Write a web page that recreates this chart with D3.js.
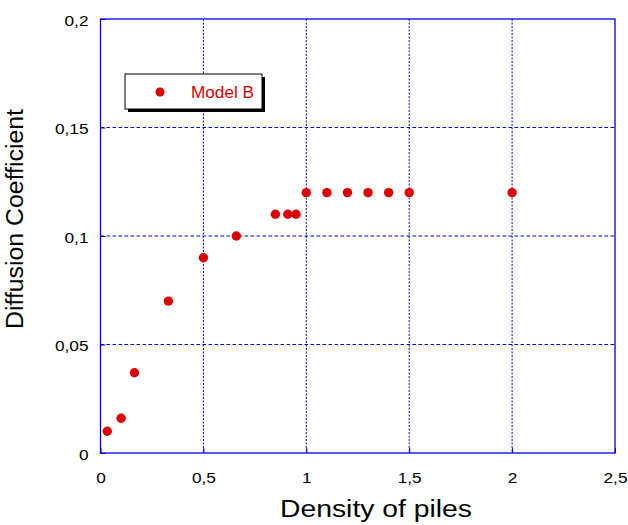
<!DOCTYPE html>
<html>
<head>
<meta charset="utf-8">
<script src="https://cdn.jsdelivr.net/npm/d3@7"></script>
<style>
  body { margin: 0; background: #fff; }
  text { font-family: "Liberation Sans", Arial, sans-serif; }
</style>
</head>
<body>
<svg id="chart" width="628" height="525"></svg>
<script>
// density of piles vs diffusion coefficient, Model B
var density = [0.033, 0.1, 0.165, 0.33, 0.5, 0.66, 0.85, 0.91, 0.95, 1.0, 1.1, 1.2, 1.3, 1.4, 1.5, 2.0];
var diffusion = [0.010, 0.016, 0.037, 0.070, 0.090, 0.100, 0.110, 0.110, 0.110, 0.120, 0.120, 0.120, 0.120, 0.120, 0.120, 0.120];
var xTicks = [0, 0.5, 1, 1.5, 2, 2.5];
var yTicks = [0, 0.05, 0.1, 0.15, 0.2];
var seriesName = 'Model B';

var svg = d3.select('#chart');
var margin = {left: 100.5, top: 19, right: 13, bottom: 72};
var width = 628 - margin.left - margin.right,
    height = 525 - margin.top - margin.bottom;

var x = d3.scaleLinear().domain([0, 2.5]).range([0, width]);
var y = d3.scaleLinear().domain([0, 0.2]).range([height, 0]);
var fmt = d => String(d).replace('.', ',');
var blue = '#0000dd', red = '#dd0000';

// the source picture is stretched sideways a bit, so widen the text to match
function stretch(sel, k) {
    sel.each(function () {
        var len = this.getComputedTextLength();
        d3.select(this).attr('textLength', len * k).attr('lengthAdjust', 'spacingAndGlyphs');
    });
}

var g = svg.append('g').attr('transform', 'translate(' + margin.left + ',' + margin.top + ')');

// grid
g.selectAll('.vgrid').data(xTicks.slice(1, -1)).enter().append('line')
    .attr('x1', d => x(d)).attr('x2', d => x(d))
    .attr('y1', 0).attr('y2', height)
    .attr('stroke', blue).attr('stroke-dasharray', '2,1.5');
g.selectAll('.hgrid').data(yTicks.slice(1, -1)).enter().append('line')
    .attr('x1', 0).attr('x2', width)
    .attr('y1', d => y(d)).attr('y2', d => y(d))
    .attr('stroke', blue).attr('stroke-dasharray', '3.5,2.5');

// axes (ticks drawn inside the frame)
var xAxis = g.append('g').attr('transform', 'translate(0,' + height + ')')
    .call(d3.axisBottom(x).tickValues(xTicks).tickFormat(fmt).tickSize(-5).tickPadding(19));
var yAxis = g.append('g')
    .call(d3.axisLeft(y).tickValues(yTicks).tickFormat(fmt).tickSize(-5).tickPadding(12));
[xAxis, yAxis].forEach(function (a) {
    a.select('.domain').remove();
    a.selectAll('line').attr('stroke', blue);
    a.selectAll('text').attr('font-size', 15).attr('fill', '#000')
        .style('font-family', '"Liberation Sans", Arial, sans-serif')
        .call(stretch, 1.15);
});
yAxis.selectAll('text').attr('dy', '0.42em');

// frame
g.append('rect').attr('width', width).attr('height', height)
    .attr('fill', 'none').attr('stroke', blue).attr('stroke-width', 1.3);

// points
g.selectAll('circle.pt').data(density).enter().append('circle')
    .attr('class', 'pt')
    .attr('cx', d => x(d))
    .attr('cy', (d, i) => y(diffusion[i]))
    .attr('r', 4.7)
    .attr('fill', red);

// legend
var lg = svg.append('g').attr('transform', 'translate(125,74)');
lg.append('rect').attr('x', 3).attr('y', 3).attr('width', 137).attr('height', 35).attr('fill', '#000');
lg.append('rect').attr('width', 137).attr('height', 35).attr('fill', '#fff').attr('stroke', '#000').attr('stroke-width', 1);
lg.append('circle').attr('cx', 35).attr('cy', 18).attr('r', 4.5).attr('fill', red);
lg.append('text').attr('x', 66).attr('y', 24).attr('font-size', 16).attr('fill', red)
    .attr('textLength', 63).attr('lengthAdjust', 'spacingAndGlyphs').text(seriesName);

// axis titles
svg.append('text').attr('x', 376).attr('y', 517)
    .attr('text-anchor', 'middle').attr('font-size', 23)
    .attr('textLength', 192).attr('lengthAdjust', 'spacingAndGlyphs').text('Density of piles');
svg.append('text').attr('transform', 'translate(23,219) rotate(-90)')
    .attr('text-anchor', 'middle').attr('font-size', 23)
    .attr('textLength', 220).attr('lengthAdjust', 'spacingAndGlyphs').text('Diffusion Coefficient');
</script>
</body>
</html>
